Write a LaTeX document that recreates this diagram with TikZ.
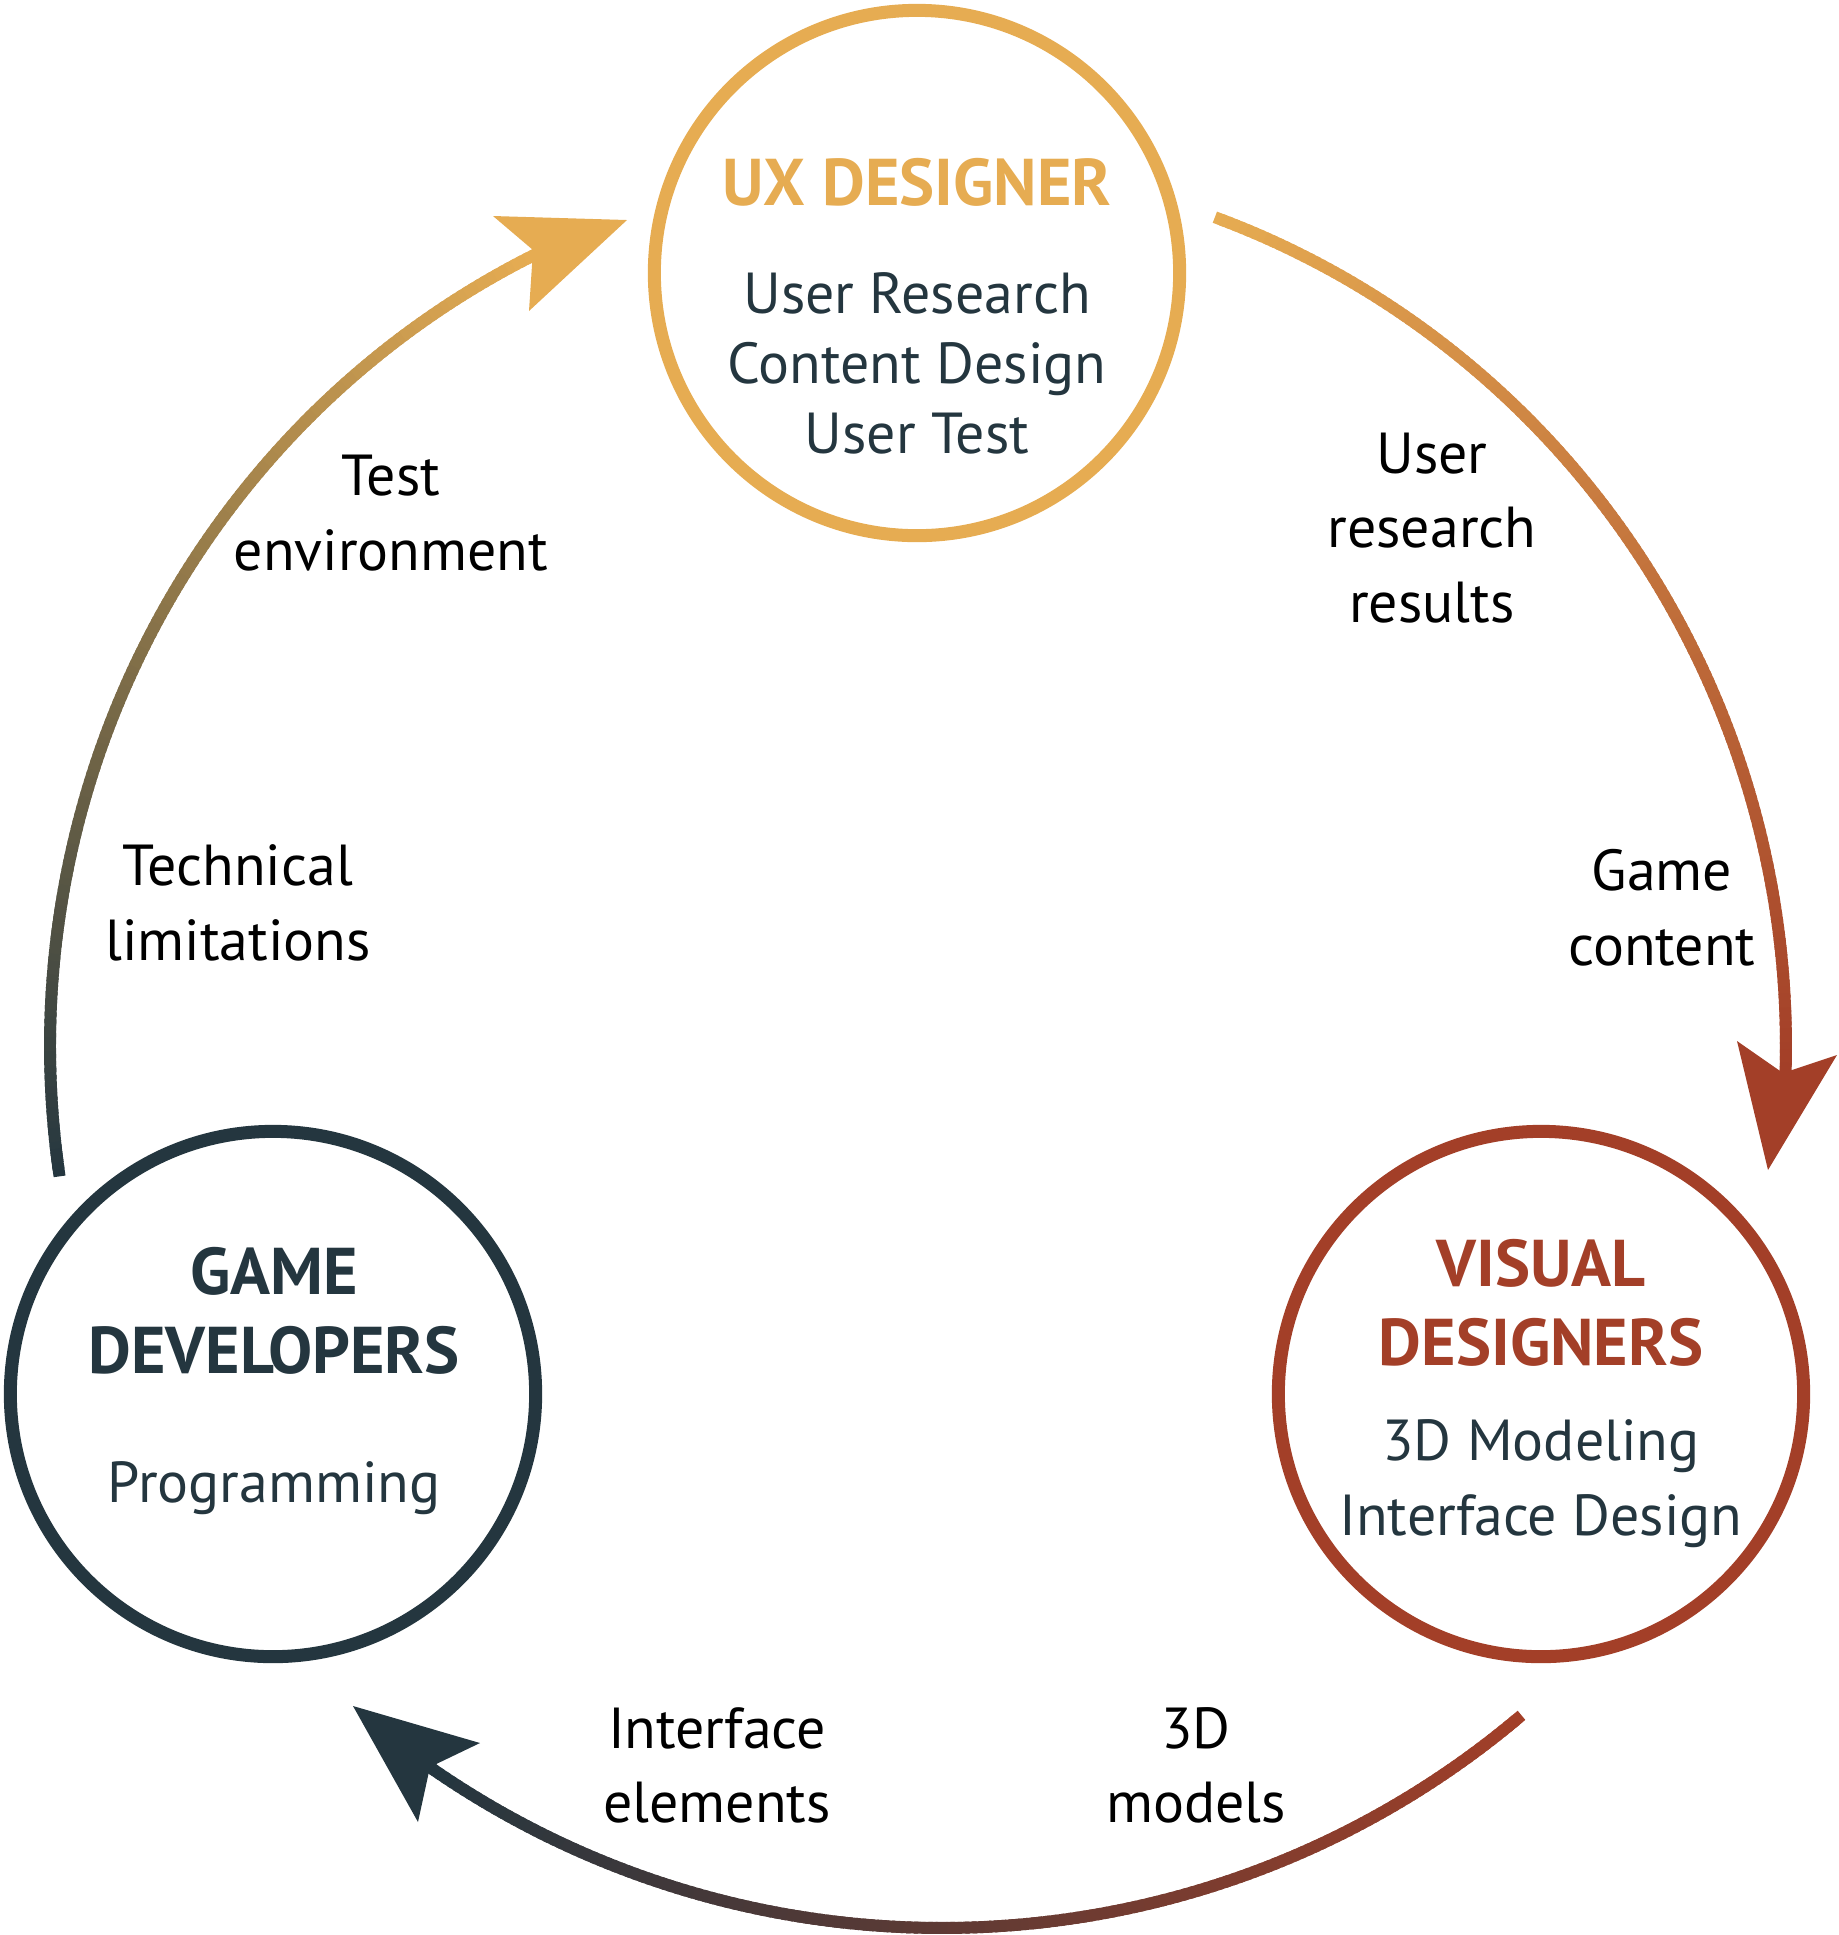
\documentclass[tikz,border=0pt]{standalone}
\usepackage{fontspec}
\setmainfont{PT Sans}
\definecolor{uxc}{HTML}{E6AC52}
\definecolor{visc}{HTML}{A33F28}
\definecolor{devc}{HTML}{24363F}
\definecolor{bodyc}{HTML}{24363F}

% gradient arc along an ellipse: centre (#1,#2), radii #3,#4, angles #5 -> #6, colours #7 -> #8
\newcommand\gradarc[8]{%
  \foreach \i in {0,...,159}{%
    \pgfmathsetmacro\ta{#5+(#6-#5)*\i/160}%
    \pgfmathsetmacro\tb{#5+(#6-#5)*min(\i+1.6,160)/160}%
    \pgfmathtruncatemacro\pc{100-100*\i/159}%
    \draw[arcline, draw=#7!\pc!#8]
      ({#1+#3*cos(\ta)},{#2-#4*sin(\ta)}) -- ({#1+#3*cos(\tb)},{#2-#4*sin(\tb)});
  }}

% multi-line nodes below are anchored at the baseline of their last line
\tikzset{
  arcline/.style={line width=3.4pt, line cap=butt},
  role/.style={circle, line width=3.7pt, minimum size=5.25cm, inner sep=0pt},
  title/.style={font=\fontsize{18.8}{22.2}\selectfont\bfseries, align=center, anchor=base, inner sep=0pt},
  body/.style={font=\fontsize{16.45}{19.9}\selectfont, text=bodyc, align=center, anchor=base, inner sep=0pt},
  widebody/.style={body, font=\fontsize{16.45}{21.3}\selectfont},
  lbl/.style={font=\fontsize{16.45}{21.05}\selectfont, text=black, align=center, anchor=base, inner sep=0pt},
}

\begin{document}
\begin{tikzpicture}[x=0.01cm, y=-0.01cm]
\useasboundingbox (0,0) rectangle (1838,1935);

% the three roles
\node[role, draw=uxc]  (ux)  at (917,273)  {};
\node[role, draw=visc] (vis) at (1541,1394) {};
\node[role, draw=devc] (dev) at (273,1394) {};

\node[title, text=uxc] (uxt) at (917,205) {UX DESIGNER};
\node[body] (uxb) at (917,453) {User Research\\Content Design\\User Test};

\node[title, text=visc] (vist) at (1541,1365) {VISUAL\\DESIGNERS};
\node[widebody] (visb) at (1541,1535) {3D Modeling\\Interface Design};

\node[title, text=devc] (devt) at (274,1373) {GAME\\DEVELOPERS};
\node[body] (devb) at (274,1502) {Programming};

% flow arcs
\gradarc{918}{1046}{868}{882}{70}{-2}{uxc}{visc}
\gradarc{942}{1032}{896}{896}{-49.7}{-124.9}{visc}{devc}
\gradarc{918}{1046}{868}{882}{188.5}{116}{devc}{uxc}

% arrow heads
\coordinate (a1tip) at (627,220);  \coordinate (a1l) at (493,216);
\coordinate (a1n)   at (533,250);  \coordinate (a1r) at (529,311);
\fill[uxc] (a1tip) -- (a1l) -- (a1n) -- (a1r) -- cycle;

\coordinate (a2tip) at (1768,1170); \coordinate (a2l) at (1737,1041);
\coordinate (a2n)   at (1783,1073); \coordinate (a2r) at (1837,1055);
\fill[visc] (a2tip) -- (a2l) -- (a2n) -- (a2r) -- cycle;

\coordinate (a3tip) at (353,1706); \coordinate (a3l) at (480,1743);
\coordinate (a3n)   at (430,1767); \coordinate (a3r) at (418,1822);
\fill[devc] (a3tip) -- (a3l) -- (a3n) -- (a3r) -- cycle;

% flow labels
\node[lbl] (l1) at (1432,622) {User\\research\\results};
\node[lbl] (l2) at (1662,965) {Game\\content};
\node[lbl] (l3) at (717,1822) {Interface\\elements};
\node[lbl] (l4) at (1196,1822) {3D\\models};
\node[lbl] (l5) at (238,960) {Technical\\limitations};
\node[lbl] (l6) at (391,570) {Test\\environment};
\end{tikzpicture}
\end{document}
